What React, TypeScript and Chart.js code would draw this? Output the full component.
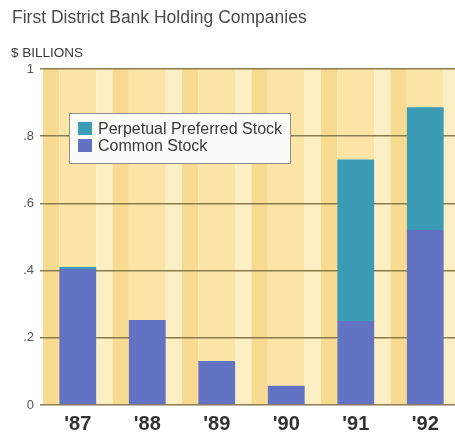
import React, { useEffect, useRef } from "react";
import { Chart, registerables } from "chart.js";

Chart.register(...registerables);

const categories = ["'87", "'88", "'89", "'90", "'91", "'92"];
const commonStock = [0.405, 0.253, 0.131, 0.057, 0.25, 0.521];
const perpetualPreferred = [0.006, 0, 0, 0, 0.481, 0.365];
const yTickLabels = ["0", ".2", ".4", ".6", ".8", "1"];
const titleText = "First District Bank Holding Companies";
const unitText = "$ BILLIONS";
const seriesLabels = ["Common Stock", "Perpetual Preferred Stock"];

const COMMON = "#6373c3";
const PREF = "#3c9cb5";

const decor = {
  id: "decor",
  beforeDraw(chart: any) {
    const { ctx, chartArea } = chart;
    const x = chart.scales.x;
    ctx.save();
    ctx.fillStyle = "#ffffff";
    ctx.fillRect(0, 0, chart.width, chart.height);
    const n = categories.length;
    const cw = (chartArea.right - chartArea.left) / n;
    for (let i = 0; i < n; i++) {
      const c = x.getPixelForValue(i);
      const s = c - cw / 2;
      const bw = cw * 0.53;
      ctx.fillStyle = "#f8da90";
      ctx.fillRect(s, chartArea.top, c - bw / 2 - s, chartArea.bottom - chartArea.top);
      ctx.fillStyle = "#fae4a6";
      ctx.fillRect(c - bw / 2, chartArea.top, bw, chartArea.bottom - chartArea.top);
      ctx.fillStyle = "#fcefc3";
      ctx.fillRect(c + bw / 2, chartArea.top, s + cw - (c + bw / 2), chartArea.bottom - chartArea.top);
    }
    ctx.fillStyle = "#4a4a4a";
    ctx.textBaseline = "alphabetic";
    ctx.textAlign = "left";
    ctx.font = "17.5px 'Liberation Sans', Arial, sans-serif";
    ctx.fillText(titleText, 12, 23);
    ctx.font = "13.5px 'Liberation Sans', Arial, sans-serif";
    ctx.fillStyle = "#3a3a3a";
    ctx.fillText(unitText, 11, 57);
    ctx.restore();
  },
  afterDatasetsDraw(chart: any) {
    const { ctx } = chart;
    ctx.save();
    const bx = 69.5, by = 113.5, bw = 221, bh = 50;
    ctx.fillStyle = "#fbfbf7";
    ctx.fillRect(bx, by, bw, bh);
    ctx.strokeStyle = "#8e8e8e";
    ctx.lineWidth = 1;
    ctx.strokeRect(bx, by, bw, bh);
    const items = [
      { label: chart.data.datasets[1].label, color: chart.data.datasets[1].backgroundColor },
      { label: chart.data.datasets[0].label, color: chart.data.datasets[0].backgroundColor },
    ];
    ctx.font = "16px 'Liberation Sans', Arial, sans-serif";
    ctx.textBaseline = "alphabetic";
    items.forEach((it, i) => {
      const y = 122 + i * 17;
      ctx.fillStyle = it.color;
      ctx.fillRect(78, y, 14, 13);
      ctx.fillStyle = "#3a3a3a";
      ctx.fillText(it.label, 98, y + 12);
    });
    ctx.restore();
  },
};

export default function App() {
  const ref = useRef<HTMLCanvasElement>(null);
  useEffect(() => {
    if (!ref.current) return;
    const chart = new Chart(ref.current, {
      type: "bar",
      data: {
        labels: categories,
        datasets: [
          {
            label: seriesLabels[0],
            data: commonStock,
            backgroundColor: COMMON,
            barPercentage: 0.53,
            categoryPercentage: 1,
          },
          {
            label: seriesLabels[1],
            data: perpetualPreferred,
            backgroundColor: PREF,
            barPercentage: 0.53,
            categoryPercentage: 1,
          },
        ],
      },
      options: {
        responsive: false,
        animation: false,
        devicePixelRatio: 1,
        layout: { padding: { top: 69, right: 2, left: 0, bottom: 0 } },
        plugins: {
          legend: { display: false },
          tooltip: { enabled: false },
          title: { display: false },
        },
        scales: {
          x: {
            stacked: true,
            grid: { display: false },
            border: { display: false },
            ticks: {
              color: "#333333",
              padding: -1,
              font: { family: "'Liberation Sans', Arial, sans-serif", size: 20, weight: "bold" },
            },
            afterFit: (s: any) => {
              s.height = 29;
            },
          },
          y: {
            stacked: true,
            min: 0,
            max: 1,
            border: { display: false },
            grid: { color: "#8c7d4e", lineWidth: 1.5, drawTicks: true, tickLength: 3 },
            ticks: {
              stepSize: 0.2,
              padding: 6,
              color: "#555555",
              font: { family: "'Liberation Sans', Arial, sans-serif", size: 13 },
              callback: (_v: any, i: number) => yTickLabels[i],
            },
            afterFit: (s: any) => {
              s.width = 43;
            },
          },
        },
      },
      plugins: [decor],
    });
    return () => chart.destroy();
  }, []);
  return (
    <div style={{ position: "absolute", left: 0, top: 0, width: 455, height: 434, overflow: "hidden", background: "#fff" }}>
      <canvas ref={ref} width={462} height={434} style={{ display: "block" }} />
    </div>
  );
}
